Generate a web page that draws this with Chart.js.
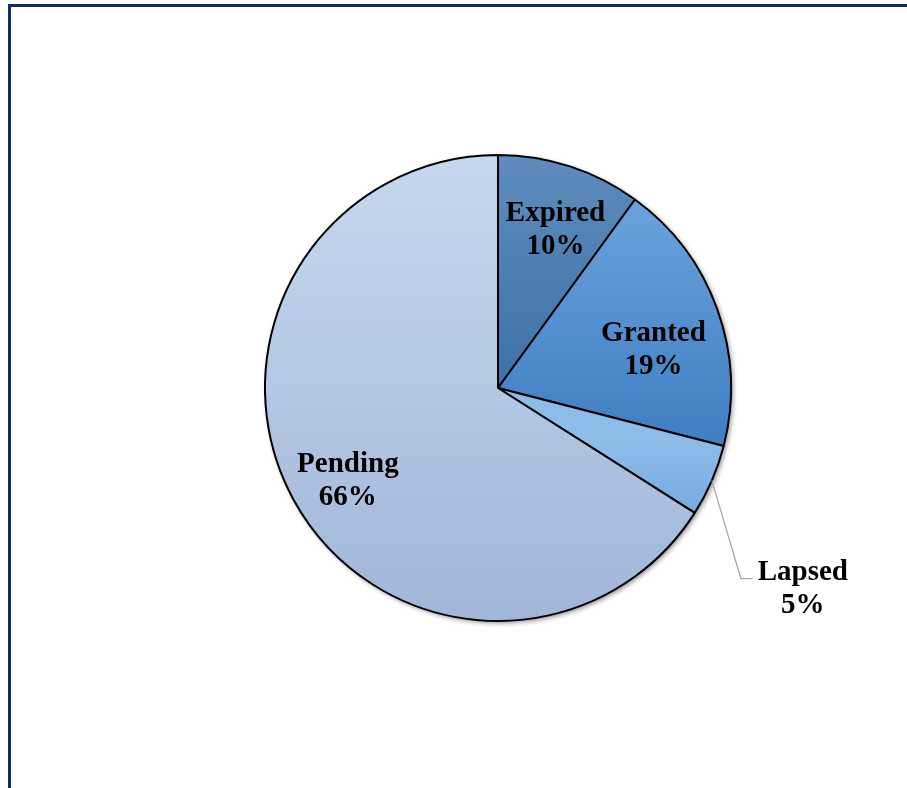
<!DOCTYPE html>
<html>
<head>
<meta charset="utf-8">
<script src="https://cdn.jsdelivr.net/npm/chart.js@4/dist/chart.umd.min.js"></script>
<style>
  html, body { margin: 0; padding: 0; background: #fff; overflow: hidden; }
  #wrap { position: relative; width: 907px; height: 788px; }
  #frame {
    position: absolute; left: 8px; top: 4px; width: 1000px; height: 1000px;
    border-left: 3px solid #13296b; border-top: 3px solid #13296b;
    box-sizing: border-box; pointer-events: none;
  }
  #chart { position: absolute; left: 0; top: 0; }
</style>
</head>
<body>
<div id="wrap">
  <canvas id="chart" width="907" height="788"></canvas>
  <div id="frame"></div>
</div>
<script>
// Patent status breakdown
const statuses = ['Expired', 'Granted', 'Lapsed', 'Pending'];
const shares = [10, 19, 5, 66];

// gradient per slice: [start fraction, end fraction] of the pie height, top / bottom colour
const gradRange = [[0, 0.5], [0.1, 0.62], [0.62, 0.77], [0, 1]];
const topColors = ['#5f8cbc', '#6aa2dc', '#8dbce9', '#c6d7ee'];
const bottomColors = ['#3d71a7', '#3f7ec2', '#76aadf', '#a1b6d8'];

// label placement: fraction of radius along mid angle, then small x / y nudges
const labelRadius = [0.73, 0.7, 0, 0.75];
const labelShiftX = [5, 2, 2, 3];
const labelNudge = [3, 17, 0, 8];

const sliceFill = (ctx) => {
  const chart = ctx.chart;
  const area = chart.chartArea;
  if (!area) return topColors[ctx.dataIndex];
  const i = ctx.dataIndex;
  const h = area.bottom - area.top;
  const g = chart.ctx.createLinearGradient(0, area.top + gradRange[i][0] * h, 0, area.top + gradRange[i][1] * h);
  g.addColorStop(0, topColors[i]);
  g.addColorStop(1, bottomColors[i]);
  return g;
};

// soft drop shadow behind the whole pie
const pieShadow = {
  id: 'pieShadow',
  beforeDatasetsDraw(chart) {
    const arc = chart.getDatasetMeta(0).data[0];
    if (!arc) return;
    const c = chart.ctx;
    c.save();
    c.shadowColor = 'rgba(0,0,0,0.45)';
    c.shadowBlur = 5;
    c.shadowOffsetX = 2;
    c.shadowOffsetY = 2;
    c.fillStyle = '#fff';
    c.beginPath();
    c.arc(arc.x, arc.y, arc.outerRadius, 0, Math.PI * 2);
    c.fill();
    c.restore();
  }
};

const sliceLabels = {
  id: 'sliceLabels',
  afterDatasetsDraw(chart) {
    const c = chart.ctx;
    const arcs = chart.getDatasetMeta(0).data;
    c.save();
    c.font = 'bold 29px "Liberation Serif", "Times New Roman", serif';
    c.fillStyle = '#000';
    c.textAlign = 'center';
    c.textBaseline = 'middle';
    arcs.forEach((arc, i) => {
      const mid = (arc.startAngle + arc.endAngle) / 2;
      const lines = [statuses[i], shares[i] + '%'];
      let x, y;
      if (labelRadius[i] > 0) {
        const r = arc.outerRadius * labelRadius[i];
        x = arc.x + Math.cos(mid) * r + labelShiftX[i];
        y = arc.y + Math.sin(mid) * r + labelNudge[i];
      } else {
        // outside label with leader line
        const ex = arc.x + Math.cos(mid) * arc.outerRadius;
        const ey = arc.y + Math.sin(mid) * arc.outerRadius;
        const kx = ex + 29, ky = ey + 98;
        c.strokeStyle = '#a6a6a6';
        c.lineWidth = 1.2;
        c.beginPath();
        c.moveTo(ex, ey);
        c.lineTo(kx, ky);
        c.lineTo(kx + 12, ky);
        c.stroke();
        x = kx + 60 + labelShiftX[i];
        y = ky + 10;
      }
      c.fillText(lines[0], x, y - 16);
      c.fillText(lines[1], x, y + 17);
    });
    c.restore();
  }
};

new Chart(document.getElementById('chart'), {
  type: 'pie',
  data: {
    labels: statuses,
    datasets: [{
      data: shares,
      backgroundColor: sliceFill,
      borderColor: '#000',
      borderWidth: 2
    }]
  },
  options: {
    responsive: false,
    animation: false,
    layout: { padding: { left: 264, right: 175, top: 154, bottom: 166 } },
    plugins: {
      legend: { display: false },
      tooltip: { enabled: false }
    }
  },
  plugins: [pieShadow, sliceLabels]
});
</script>
</body>
</html>
